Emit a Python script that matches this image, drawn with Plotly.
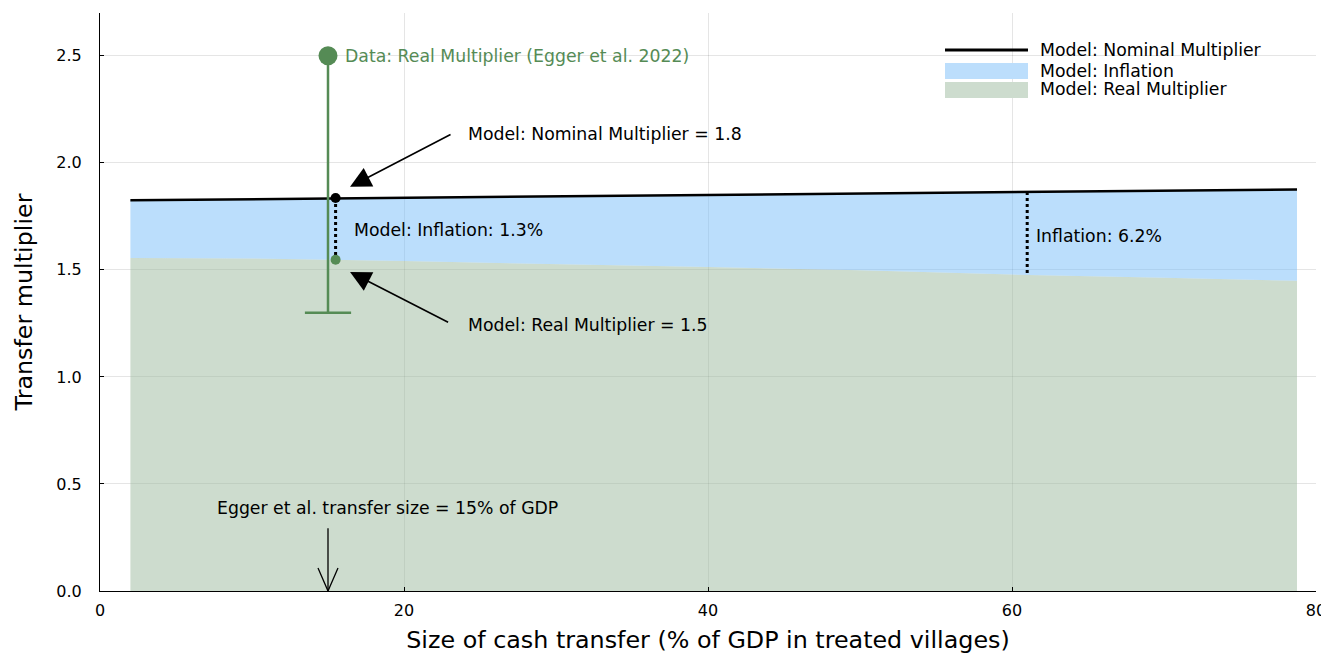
import plotly.graph_objects as go

# ---- data ----
transfer_size = [2, 10, 20, 30, 40, 50, 60, 70, 78.75]
nominal_mult = [1.825, 1.830, 1.838, 1.844, 1.850, 1.857, 1.864, 1.870, 1.876]
real_mult = [1.556, 1.553, 1.541, 1.528, 1.513, 1.498, 1.478, 1.463, 1.449]

data_x = [15]
data_y = [2.5]
data_lower = [1.3]

model_pt_x = [15.5]
model_pt_nominal = [1.836]
model_pt_real = [1.547]

infl_x = [61]
infl_nominal = [1.864]
infl_real = [1.472]

egger_size = 15

GREEN = "#558b55"
BLUE_FILL = "rgba(120,190,250,0.5)"
GREEN_FILL = "rgba(155,186,157,0.5)"
FONT = "DejaVu Sans"
ANN_SIZE = 17.3

# page body has an 8px default margin: compensate in figure size / margins
W, H = 1321, 646
ML, MR, MT, MB = 92, 13, 5, 63

fig = go.Figure()

# real multiplier area
fig.add_trace(go.Scatter(x=transfer_size, y=real_mult, mode="lines", fill="tozeroy",
                         fillcolor=GREEN_FILL, line=dict(width=0), name="Model: Real Multiplier",
                         showlegend=False, hoverinfo="skip"))
# inflation band + nominal line
fig.add_trace(go.Scatter(x=transfer_size, y=nominal_mult, mode="lines", fill="tonexty",
                         fillcolor=BLUE_FILL, line=dict(color="black", width=2.5),
                         name="Model: Nominal Multiplier", showlegend=False))

# data point with lower error bar
err_minus = [d - l for d, l in zip(data_y, data_lower)]
fig.add_trace(go.Scatter(x=data_x, y=data_y, mode="markers",
                         marker=dict(color=GREEN, size=19),
                         error_y=dict(type="data", symmetric=False, array=[0], arrayminus=err_minus,
                                      color=GREEN, thickness=2.5, width=0),
                         showlegend=False))
fig.add_trace(go.Scatter(x=data_x, y=data_lower, mode="markers",
                         marker=dict(symbol="line-ew", size=33, line=dict(color=GREEN, width=2.5)),
                         showlegend=False))

# model point: dotted line between nominal and real
fig.add_trace(go.Scatter(x=model_pt_x * 2, y=model_pt_nominal + model_pt_real, mode="lines",
                         line=dict(color="black", width=3, dash="dot"), showlegend=False))
fig.add_trace(go.Scatter(x=model_pt_x, y=model_pt_nominal, mode="markers",
                         marker=dict(color="black", size=10), showlegend=False))
fig.add_trace(go.Scatter(x=model_pt_x, y=model_pt_real, mode="markers",
                         marker=dict(color=GREEN, size=10), showlegend=False))

# inflation at 61
fig.add_trace(go.Scatter(x=infl_x * 2, y=infl_nominal + infl_real, mode="lines",
                         line=dict(color="black", width=3, dash="dot"), showlegend=False))

annos = []
txt = dict(family=FONT, size=ANN_SIZE, color="black")
annos.append(dict(x=15.97, y=2.5, text="Data: Real Multiplier (Egger et al. 2022)", showarrow=False,
                  xanchor="left", yanchor="middle", font=dict(family=FONT, size=ANN_SIZE, color=GREEN)))
annos.append(dict(x=24.07, y=2.135, text="Model: Nominal Multiplier = 1.8", showarrow=False,
                  xanchor="left", yanchor="middle", font=txt))
annos.append(dict(x=24.07, y=1.243, text="Model: Real Multiplier = 1.5", showarrow=False,
                  xanchor="left", yanchor="middle", font=txt))
annos.append(dict(x=16.57, y=1.687, text="Model: Inflation: 1.3%", showarrow=False,
                  xanchor="left", yanchor="middle", font=txt))
annos.append(dict(x=61.47, y=1.66, text="Inflation: 6.2%", showarrow=False,
                  xanchor="left", yanchor="middle", font=txt))
annos.append(dict(x=18.9, y=0.388, text="Egger et al. transfer size = 15% of GDP", showarrow=False,
                  xanchor="center", yanchor="middle", font=txt))
# arrows
annos.append(dict(x=16.45, y=1.888, ax=23.16, ay=2.136, axref="x", ayref="y", text="",
                  showarrow=True, arrowhead=2, arrowsize=2.6, arrowwidth=1.6, arrowcolor="black"))
annos.append(dict(x=16.45, y=1.49, ax=23.0, ay=1.252, axref="x", ayref="y", text="",
                  showarrow=True, arrowhead=2, arrowsize=2.6, arrowwidth=1.6, arrowcolor="black"))
annos.append(dict(x=egger_size, y=0, ax=egger_size, ay=0.3, axref="x", ayref="y", text="",
                  showarrow=True, arrowhead=0, arrowwidth=1.3, arrowcolor="black"))

shapes = []
# open V arrowhead at the bottom arrow (pixel-sized path anchored at the data point)
shapes.append(dict(type="path", xref="x", yref="y", xsizemode="pixel", ysizemode="pixel",
                   xanchor=egger_size, yanchor=0, path="M-10,23 L0,0 L10,23",
                   line=dict(color="black", width=1.3)))

# custom legend (positions in page pixels converted to paper fractions)
leg_items = ["Model: Nominal Multiplier", "Model: Inflation", "Model: Real Multiplier"]
PW = W - ML - MR
PH = H - MT - MB
def px2paper_x(px):
    return (px - 8 - ML) / PW
def px2paper_y(py):
    return (H - MB + 8 - py) / PH
shapes.append(dict(type="line", xref="paper", yref="paper", x0=px2paper_x(945), x1=px2paper_x(1028),
                   y0=px2paper_y(50), y1=px2paper_y(50), line=dict(color="black", width=3)))
shapes.append(dict(type="rect", xref="paper", yref="paper", x0=px2paper_x(945), x1=px2paper_x(1028),
                   y0=px2paper_y(63), y1=px2paper_y(79), fillcolor="rgb(188,222,252)", line=dict(width=0)))
shapes.append(dict(type="rect", xref="paper", yref="paper", x0=px2paper_x(945), x1=px2paper_x(1028),
                   y0=px2paper_y(82), y1=px2paper_y(98), fillcolor="rgb(205,220,206)", line=dict(width=0)))
for name, py in zip(leg_items, [50, 71, 89]):
    annos.append(dict(xref="paper", yref="paper", x=px2paper_x(1038), y=px2paper_y(py), text=name,
                      showarrow=False, xanchor="left", yanchor="middle", font=txt))

fig.update_layout(
    width=W, height=H,
    margin=dict(l=ML, r=MR, t=MT, b=MB),
    plot_bgcolor="white", paper_bgcolor="white",
    font=dict(family=FONT, size=16, color="black"),
    annotations=annos, shapes=shapes, showlegend=False,
    xaxis=dict(range=[0, 80], dtick=20, tick0=0, showgrid=True, gridcolor="rgba(0,0,0,0.1)",
               zeroline=False, showline=True, linecolor="black", linewidth=1.2,
               ticks="inside", ticklen=4, tickcolor="black", automargin=False,
               tickfont=dict(size=16), ticklabelstandoff=5,
               title=dict(text="Size of cash transfer (% of GDP in treated villages)",
                          font=dict(size=23.8), standoff=18)),
    yaxis=dict(range=[0, 2.7], tickvals=[0, 0.5, 1.0, 1.5, 2.0, 2.5], tickformat=".1f",
               showgrid=True, gridcolor="rgba(0,0,0,0.1)",
               zeroline=False, showline=True, linecolor="black", linewidth=1.2,
               ticks="inside", ticklen=4, tickcolor="black", automargin=False,
               tickfont=dict(size=16), ticklabelstandoff=14,
               title=dict(text="Transfer multiplier", font=dict(size=23.8), standoff=16)),
)

fig.write_html("out.html")
